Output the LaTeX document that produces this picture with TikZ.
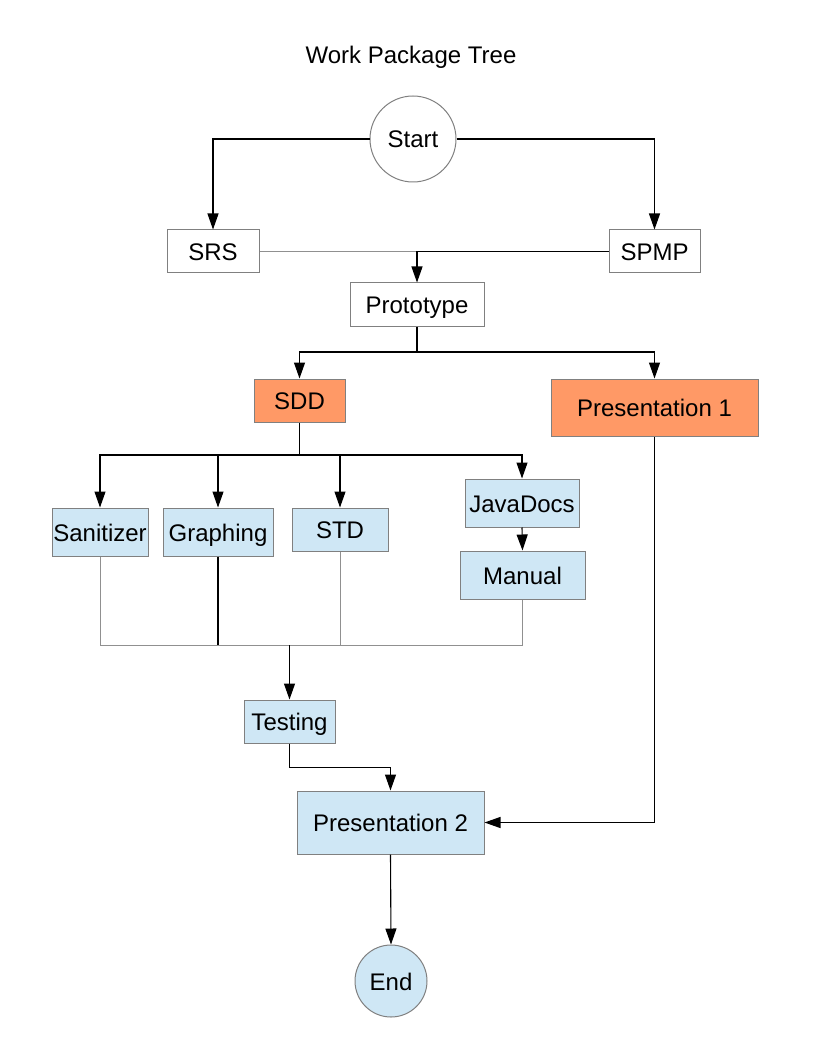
\documentclass[tikz,border=0pt]{standalone}
\usepackage{fontspec}
\setmainfont{Liberation Sans}
\usetikzlibrary{arrows.meta}
\definecolor{orng}{HTML}{FF9966}
\definecolor{lblue}{HTML}{CFE7F5}
\definecolor{bordergray}{HTML}{808080}
\definecolor{linegray}{HTML}{909090}
\tikzset{
  txt/.style={font=\fontsize{24}{28}\selectfont, text height=19.5pt, text depth=1.5pt, inner sep=0pt},
  box/.style={txt, draw=bordergray, line width=1pt, rectangle},
  wbox/.style={box, fill=white},
  obox/.style={box, fill=orng},
  bbox/.style={box, fill=lblue},
  circ/.style={txt, draw=bordergray, line width=1pt, circle},
  bline/.style={draw=black, line width=1.1pt},
  gline/.style={draw=linegray, line width=1pt},
  arr/.style={bline, -{Triangle[width=11pt,length=16pt]}},
}
\begin{document}
\begin{tikzpicture}[x=1pt,y=-1pt]
\useasboundingbox[fill=white] (0,0) rectangle (816,1056);

\node[txt] (title) at (411,55) {Work Package Tree};

\node[circ, fill=white, minimum size=86pt] (start) at (413,139) {Start};
\node[wbox, minimum width=92pt, minimum height=43pt] (srs) at (213,251.5) {SRS};
\node[wbox, minimum width=91pt, minimum height=43pt] (spmp) at (654.5,251.5) {SPMP};
\node[wbox, minimum width=134pt, minimum height=43pt] (prot) at (417,304.5) {Prototype};
\node[obox, minimum width=91pt, minimum height=43pt] (sdd) at (299.5,400.5) {SDD};
\node[obox, minimum width=207pt, minimum height=57pt] (p1) at (654.5,407.5) {Presentation 1};
\node[bbox, minimum width=96pt, minimum height=48pt] (san) at (100,532) {Sanitizer};
\node[bbox, minimum width=110pt, minimum height=48pt] (gra) at (218,532) {Graphing};
\node[bbox, minimum width=96pt, minimum height=43pt] (std) at (340,529.5) {STD};
\node[bbox, minimum width=114pt, minimum height=48pt] (jd) at (522,503) {JavaDocs};
\node[bbox, minimum width=125pt, minimum height=48pt] (man) at (522.5,575) {Manual};
\node[bbox, minimum width=91pt, minimum height=43pt] (test) at (289.5,721.5) {Testing};
\node[bbox, minimum width=187pt, minimum height=63pt] (p2) at (390.5,822.5) {Presentation 2};
\node[circ, fill=lblue, minimum size=72pt] (end) at (391,981) {End};

% Start -> SRS, SPMP
\draw[arr] (start.west) -| (srs.north);
\draw[arr] (start.east) -| (spmp.north);

% SRS, SPMP -> Prototype
\coordinate (j1) at (prot.north |- srs.east);
\draw[gline] (srs.east) -- (j1);
\draw[arr] (spmp.west) -- (j1) -- (prot.north);

% Prototype -> SDD, Presentation 1
\coordinate (j2) at (prot.south |- 0,352);
\draw[bline] (prot.south) -- (j2);
\draw[arr] (j2) -| (sdd.north);
\draw[arr] (j2) -| (p1.north);

% SDD -> children
\coordinate (j3) at (sdd.south |- 0,455);
\draw[bline] (sdd.south) -- (j3);
\draw[arr] (j3) -| (san.north);
\draw[arr] (j3) -| (gra.north);
\draw[arr] (j3) -| (std.north);
\draw[arr] (j3) -| (jd.north);
\draw[arr] (jd.south) -- (man.north);

% children -> Testing
\coordinate (b1) at (san.south |- 0,645);
\coordinate (b4) at (man.south |- 0,645);
\draw[gline] (san.south) -- (b1) -- (b4) -- (man.south);
\draw[gline] (std.south) -- (std.south |- b1);
\draw[bline] (gra.south) -- (gra.south |- b1);
\coordinate (bt) at (test.north |- b1);
\draw[arr] (bt) -- (test.north);

% Testing -> Presentation 2
\draw[arr] (test.south) -- ++(0,24) -| (p2.north);
% Presentation 1 -> Presentation 2
\draw[arr] (p1.south) |- (p2.east);
% Presentation 2 -> End
\draw[arr] (p2.south) -- (end.north);
\end{tikzpicture}
\end{document}
